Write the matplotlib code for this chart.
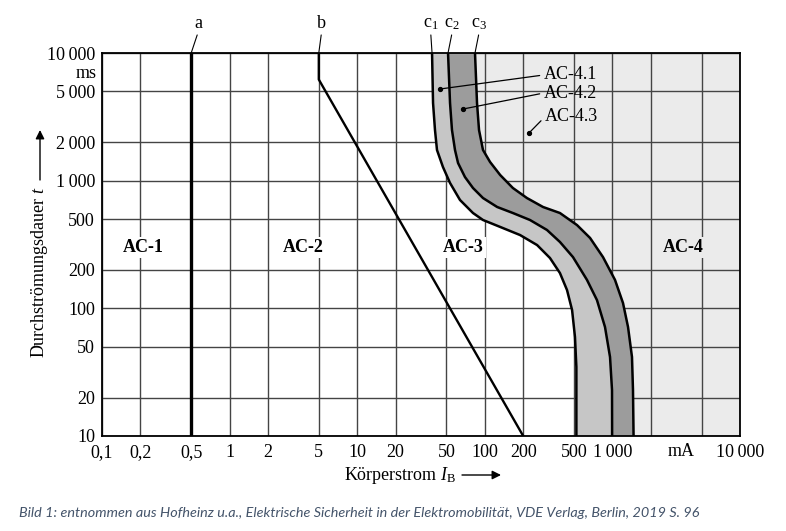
import numpy as np
import matplotlib
matplotlib.use('Agg')
import matplotlib.pyplot as plt

W, H = 786, 531
plt.rcParams['font.family'] = ['Liberation Serif', 'DejaVu Serif']
plt.rcParams['mathtext.fontset'] = 'custom'
plt.rcParams['mathtext.rm'] = 'Liberation Serif'
plt.rcParams['mathtext.it'] = 'Liberation Serif:italic'
plt.rcParams['mathtext.bf'] = 'Liberation Serif:bold'

# ---------------- data ----------------
x_ticks = [0.1, 0.2, 0.5, 1, 2, 5, 10, 20, 50, 100, 200, 500, 1000, 2000, 5000, 10000]
x_tick_labels = ['0,1', '0,2', '0,5', '1', '2', '5', '10', '20', '50', '100', '200',
                 '500', '1\u2009000', '', '', '10\u2009000']
y_ticks = [10, 20, 50, 100, 200, 500, 1000, 2000, 5000, 10000]
y_tick_labels = ['10', '20', '50', '100', '200', '500', '1\u2009000', '2\u2009000',
                 '5\u2009000', '10\u2009000']

# line a and line b (current in mA, time in ms)
a_current = [0.5, 0.5]
a_time = [10, 10000]
b_current = [5, 5, 200]
b_time = [10000, 6200, 10]

# curves c1, c2, c3
c1_current = [38.6, 39.3, 40.7, 42.2, 47.0, 53.4, 63.9, 80.8, 96.8, 132, 189, 257,
              324, 388, 441, 483, 509, 522, 522]
c1_time = [10000, 4058, 2494, 1739, 1279, 959, 706, 558, 492, 434, 375, 313,
           248, 189, 139, 97, 59.6, 34.7, 10]
c2_current = [51.5, 53.4, 55.3, 58.4, 61.7, 69.9, 80.8, 96.8, 125, 166, 226, 307,
              388, 491, 632, 757, 875, 958, 993, 995]
c2_time = [10000, 4058, 2494, 1739, 1375, 1068, 876, 731, 622, 558, 492, 411,
           331, 252, 167, 116, 71.4, 41.6, 22.9, 10]
c3_current = [83.8, 86.9, 90.1, 96.8, 110, 132, 166, 214, 286, 388, 528, 668,
              844, 1048, 1211, 1326, 1424, 1450, 1465]
c3_time = [10000, 4058, 2494, 1739, 1400, 1107, 876, 731, 622, 558, 449, 356,
           252, 167, 110, 71.4, 41.6, 22.9, 10]

zone_names = ['AC-1', 'AC-2', 'AC-3', 'AC-4']
zone_current = [0.21, 3.76, 67.5, 3570]
zone_time = [300, 300, 300, 300]

sub_names = ['AC-4.1', 'AC-4.2', 'AC-4.3']
sub_dot_current = [44.6, 67.5, 222]
sub_dot_time = [5224, 3640, 2362]
sub_text_current = [290, 290, 295]
sub_text_time = [6730, 4860, 3155]

caption = ('Bild 1: entnommen aus Hofheinz u.a., Elektrische Sicherheit in der '
           'Elektromobilität, VDE Verlag, Berlin, 2019 S. 96')

# ---------------- figure ----------------
def fp(x, y):
    return (x / W, 1 - y / H)

fig = plt.figure(figsize=(W / 100, H / 100), dpi=100)
ax = fig.add_axes([102 / W, 1 - 436 / H, 638 / W, 383 / H])
ax.set_xscale('log')
ax.set_yscale('log')
ax.set_xlim(0.1, 10000)
ax.set_ylim(10, 10000)

ax.set_xticks(x_ticks)
ax.set_xticklabels(x_tick_labels)
ax.set_yticks(y_ticks)
ax.set_yticklabels(y_tick_labels)
ax.xaxis.set_minor_locator(matplotlib.ticker.NullLocator())
ax.yaxis.set_minor_locator(matplotlib.ticker.NullLocator())
ax.tick_params(length=0, labelsize=13)
ax.tick_params(axis='x', pad=6)
ax.tick_params(axis='y', pad=5)
ax.set_axisbelow(True)
ax.grid(True, which='major', color='#444444', lw=1.0)
for s in ax.spines.values():
    s.set_linewidth(1.3)
    s.set_color('black')

# AC-4.3 light zone
ax.fill(list(c3_current) + [10000, 10000], list(c3_time) + [10, 10000],
        color='#ebebeb', lw=0, zorder=0.2)
# AC-4.1 band
ax.fill(list(c1_current) + list(c2_current)[::-1], list(c1_time) + list(c2_time)[::-1],
        color='#c6c6c6', lw=0, zorder=2)
# AC-4.2 band
ax.fill(list(c2_current) + list(c3_current)[::-1], list(c2_time) + list(c3_time)[::-1],
        color='#9c9c9c', lw=0, zorder=2)

for cx, cy in [(c1_current, c1_time), (c2_current, c2_time), (c3_current, c3_time)]:
    ax.plot(cx, cy, color='black', lw=1.8, zorder=3, solid_joinstyle='round')

ax.plot(a_current, a_time, color='black', lw=2.4, zorder=3)
ax.plot(b_current, b_time, color='black', lw=1.7, zorder=3, solid_joinstyle='round')

# top labels with leaders
lead = dict(arrowstyle='-', lw=0.8, color='black', shrinkA=0, shrinkB=0)
top_labels = [('a', 0.5, (5, 15)), ('b', 5, (2, 15)),
              ('c$_\\mathregular{1}$', c1_current[0], (-1, 15)),
              ('c$_\\mathregular{2}$', c2_current[0], (3, 15)),
              ('c$_\\mathregular{3}$', c3_current[0], (3, 15))]
for txt, xv, off in top_labels:
    ax.annotate(txt, xy=(xv, 10000), xytext=off, textcoords='offset points',
                ha='center', va='bottom', fontsize=13, annotation_clip=False,
                arrowprops=dict(lead, relpos=(0.5, 0.0)))

# zone labels
for name, xv, yv in zip(zone_names, zone_current, zone_time):
    fc = '#ebebeb' if name == 'AC-4' else 'white'
    ax.text(xv, yv, name, ha='center', va='center', fontsize=13, fontweight='bold',
            zorder=5, bbox=dict(facecolor=fc, edgecolor='none', pad=1.5))

# sub-zone labels
for name, dx, dy, tx, ty in zip(sub_names, sub_dot_current, sub_dot_time,
                                sub_text_current, sub_text_time):
    ax.plot([dx], [dy], 'o', color='black', ms=2.8, zorder=6)
    ax.annotate(name, xy=(dx, dy), xytext=(tx, ty), ha='left', va='center',
                fontsize=13, zorder=6,
                arrowprops=dict(arrowstyle='-', lw=0.9, color='black',
                                shrinkA=1, shrinkB=0, relpos=(0, 0.5)))

# axis texts
fig.text(*fp(97, 73), 'ms', ha='right', va='center', fontsize=13)
fig.text(*fp(681, 452), 'mA', ha='center', va='center', fontsize=13)

fig.text(*fp(400, 475), 'Körperstrom $I_\\mathrm{B}$', ha='center', va='center', fontsize=13)
ax.annotate('', xy=fp(501, 475), xytext=fp(462, 475), xycoords='figure fraction',
            textcoords='figure fraction',
            arrowprops=dict(arrowstyle='-|>', lw=1.0, color='black', mutation_scale=13,
                            shrinkA=0, shrinkB=0))

fig.text(*fp(40, 272), 'Durchströmungsdauer $t$', ha='center', va='center',
         rotation=90, fontsize=13)
ax.annotate('', xy=fp(40, 130), xytext=fp(40, 180), xycoords='figure fraction',
            textcoords='figure fraction',
            arrowprops=dict(arrowstyle='-|>', lw=1.0, color='black', mutation_scale=13,
                            shrinkA=0, shrinkB=0))

fig.text(*fp(19, 513), caption, ha='left', va='center', fontsize=10.4,
         family=['Lato', 'DejaVu Sans'], style='italic', color='#44546a')

fig.savefig('out.png', dpi=100)
